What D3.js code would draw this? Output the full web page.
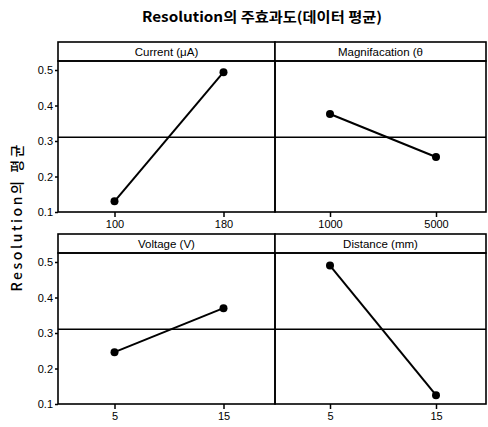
<!DOCTYPE html>
<html><head><meta charset="utf-8">
<script src="https://cdn.jsdelivr.net/npm/d3@7"></script>
<style>
body{margin:0;background:#fff;}
svg{display:block;}
text{fill:#000;}
</style></head>
<body>
<script>
// ---- data ----
const factors = ["Current (μA)", "Magnifacation (θ", "Voltage (V)", "Distance (mm)"];
const levels = [["100", "180"], ["1000", "5000"], ["5", "15"], ["5", "15"]];
const means = [[0.13, 0.494], [0.376, 0.255], [0.246, 0.37], [0.49, 0.125]];
const yTicks = [0.1, 0.2, 0.3, 0.4, 0.5];
const yTickLabels = ["0.1", "0.2", "0.3", "0.4", "0.5"];
const title = "Resolution의 주효과도(데이터 평균)";
const yTitle = "Resolution의 평균";

const W = 488, H = 427;
const svg = d3.select("body").append("svg").attr("width", W).attr("height", H);
const font = "'Liberation Sans Narrow','Liberation Sans',Arial,sans-serif";

const colX = [58, 275, 486];
const rowY = [42, 234];
const stripH = 19, plotH = 151;
const grand = d3.mean(means.flat());

svg.append("text").attr("x", 262).attr("y", 22).attr("text-anchor", "middle")
  .attr("font-family", "'Noto Sans CJK KR','Liberation Sans',sans-serif")
  .attr("font-size", 14).attr("font-weight", "bold")
  .attr("textLength", 240).attr("lengthAdjust", "spacingAndGlyphs")
  .text(title);

svg.append("text").attr("transform", "translate(22,218) rotate(-90)")
  .attr("text-anchor", "middle")
  .attr("font-family", "'Noto Sans CJK KR','Liberation Sans',sans-serif")
  .attr("font-size", 14).attr("font-weight", 500)
  .attr("textLength", 147).attr("lengthAdjust", "spacing")
  .text(yTitle);

factors.forEach((f, i) => {
  const r = Math.floor(i / 2), c = i % 2;
  const x0 = colX[c], x1 = colX[c + 1];
  const top = rowY[r], pTop = top + stripH, pBot = pTop + plotH;
  const g = svg.append("g");
  const x = d3.scalePoint().domain(levels[i]).range([x0 + 2, x1 + 3]).padding(0.5);
  const y = d3.scaleLinear().domain([0.1, 0.1 + plotH / 355]).range([pBot, pTop]);

  // strip
  g.append("rect").attr("x", x0).attr("y", top).attr("width", x1 - x0).attr("height", stripH)
    .attr("fill", "#fff").attr("stroke", "#000").attr("stroke-width", 1.6);
  g.append("text").attr("x", (x0 + x1) / 2).attr("y", top + 14).attr("text-anchor", "middle")
    .attr("font-family", font).attr("font-size", 11.5).text(f);
  // plot frame
  g.append("rect").attr("x", x0).attr("y", pTop).attr("width", x1 - x0).attr("height", plotH)
    .attr("fill", "none").attr("stroke", "#000").attr("stroke-width", 1.6);

  // grand mean line
  g.append("line").attr("x1", x0).attr("x2", x1).attr("y1", y(grand)).attr("y2", y(grand))
    .attr("stroke", "#000").attr("stroke-width", 1.5);

  // x axis
  const xa = g.append("g").attr("transform", `translate(0,${pBot})`)
    .call(d3.axisBottom(x).tickSize(5).tickPadding(3));
  xa.select(".domain").remove();
  xa.selectAll("line").attr("stroke", "#000").attr("stroke-width", 1.5);
  xa.selectAll("text").attr("font-family", font).attr("font-size", 11).attr("fill", "#000");

  // y axis
  if (c === 0) {
    const ya = g.append("g").attr("transform", `translate(${x0},0)`)
      .call(d3.axisLeft(y).tickValues(yTicks).tickFormat((d, k) => yTickLabels[k]).tickSize(3).tickPadding(2));
    ya.select(".domain").remove();
    ya.selectAll("line").attr("stroke", "#000").attr("stroke-width", 1.5);
    ya.selectAll("text").attr("font-family", font).attr("font-size", 11).attr("fill", "#000");
  }

  // data line & points
  const pts = levels[i].map((l, k) => [x(l), y(means[i][k])]);
  g.append("path").attr("d", d3.line()(pts)).attr("fill", "none")
    .attr("stroke", "#000").attr("stroke-width", 2);
  g.selectAll("circle.p").data(pts).enter().append("circle")
    .attr("cx", d => d[0]).attr("cy", d => d[1]).attr("r", 4).attr("fill", "#000");
});
</script>
</body></html>
